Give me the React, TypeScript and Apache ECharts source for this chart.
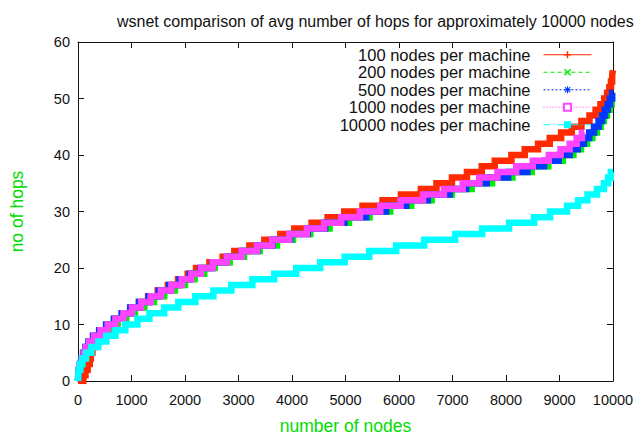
import React, { useEffect, useRef } from "react";
import * as echarts from "echarts";

const titleText = "wsnet comparison of avg number of hops for approximately 10000 nodes";
const xAxisName = "number of nodes";
const yAxisName = "no of hops";
const seriesNames = [
  "100 nodes per machine",
  "200 nodes per machine",
  "500 nodes per machine",
  "1000 nodes per machine",
  "10000 nodes per machine",
];
const seriesColors = ["#ff2a00", "#00ee00", "#0038ff", "#ff44ff", "#00ffff"];

// Node rank (x) at which each hop count begins; array index = number of hops
const red100 = [0, 100, 140, 180, 220, 240, 270, 320, 400, 490, 590, 710, 845, 990, 1140, 1310, 1490, 1680, 1870, 2050,
  2207, 2456, 2704, 2922, 3203, 3483, 3782, 4043, 4366, 4665, 4977, 5318, 5692, 6036, 6409, 6700, 6990, 7270, 7547, 7790,
  8101, 8350, 8599, 8818, 9030, 9230, 9410, 9560, 9675, 9765, 9835, 9890, 9932, 9962, 9984, 9997];
const green200 = [0, 8, 20, 45, 80, 120, 170, 235, 330, 450, 590, 740, 900, 1065, 1240, 1420, 1610, 1810, 2000, 2180,
  2360, 2555, 2835, 3103, 3395, 3720, 4019, 4342, 4702, 5064, 5450, 5836, 6228, 6610, 6987, 7358, 7740, 8120, 8480, 8790,
  9060, 9260, 9400, 9515, 9615, 9700, 9770, 9830, 9885, 9935, 9975];
const blue500 = [0, 5, 12, 35, 62, 95, 140, 195, 280, 395, 525, 670, 815, 975, 1140, 1320, 1510, 1705, 1900, 2090,
  2290, 2515, 2780, 3060, 3350, 3640, 3965, 4295, 4620, 4980, 5387, 5760, 6135, 6540, 6945, 7255, 7640, 8040, 8400, 8711,
  8985, 9190, 9340, 9455, 9555, 9645, 9730, 9795, 9850, 9900, 9945, 9985];
const magenta1000 = [0, 5, 15, 40, 70, 105, 150, 210, 300, 420, 555, 700, 850, 1010, 1180, 1360, 1550, 1745, 1940, 2120,
  2300, 2520, 2780, 3060, 3345, 3630, 3950, 4280, 4600, 4920, 5270, 5650, 6030, 6450, 6840, 7190, 7500, 7840, 8190, 8500,
  8800, 9020, 9190, 9320, 9420];
const cyan10000 = [0, 3, 15, 40, 80, 150, 250, 380, 530, 700, 885, 1110, 1335, 1610, 1875, 2194, 2530, 2866, 3259, 3669,
  4080, 4528, 4986, 5443, 5948, 6471, 7050, 7554, 8058, 8525, 8824, 9141, 9347, 9524, 9701, 9830, 9910, 9960];
const seriesLevels = [red100, green200, blue500, magenta1000, cyan10000];
// last node rank reached by each series
const seriesEnd = [10000, 10000, 10000, 9460, 10000];

const xTicks = { min: 0, max: 10000, interval: 1000 };
const yTicks = { min: 0, max: 60, interval: 10 };

const plusPath = "path://M4 0H6V4H10V6H6V10H4V6H0V4H4Z";
const crossPath = "path://M0 1.4L1.4 0L5 3.6L8.6 0L10 1.4L6.4 5L10 8.6L8.6 10L5 6.4L1.4 10L0 8.6L3.6 5Z";
const starPath = "path://M4.3 0H5.7V4.3H10V5.7H5.7V10H4.3V5.7H0V4.3H4.3ZM0.8 1.8L1.8 0.8L5 4L8.2 0.8L9.2 1.8L6 5L9.2 8.2L8.2 9.2L5 6L1.8 9.2L0.8 8.2L4 5Z";
const seriesSymbols = [plusPath, crossPath, starPath, "emptyRect", "rect"];
const legendDash: any[] = ["solid", [4, 3], [2, 2], [1, 2], [7, 3, 1, 3]];

const FONT = "Liberation Sans, Arial, Helvetica, sans-serif";

export default function App() {
  const ref = useRef<HTMLDivElement>(null);
  useEffect(() => {
    if (!ref.current) return;
    const chart = echarts.init(ref.current, undefined, { renderer: "svg" });
    const series = seriesNames.map((name, i) => {
      const lv = seriesLevels[i];
      const data = lv.map((x, h) => [x, h]);
      data.push([seriesEnd[i], lv.length - 1]);
      return {
        name,
        type: "line",
        step: "end",
        data,
        color: seriesColors[i],
        symbol: seriesSymbols[i],
        showSymbol: false,
        itemStyle: { color: seriesColors[i] },
        lineStyle: { color: seriesColors[i], width: 6.5, cap: "butt", join: "miter" },
        emphasis: { disabled: true },
        z: 2 + i,
      };
    });
    const axisCommon = {
      axisLine: { show: true, onZero: false, lineStyle: { color: "#111", width: 1 } },
      axisTick: { show: true, inside: true, length: 6, lineStyle: { color: "#111", width: 1 } },
      splitLine: { show: false },
    };
    const plain = (v: number) => String(v);
    chart.setOption({
      animation: false,
      backgroundColor: "#fff",
      title: {
        text: titleText,
        left: 112,
        top: 8,
        textStyle: { fontFamily: FONT, fontSize: 16, fontWeight: "normal", color: "#111" },
      },
      grid: { left: 78, right: 31, top: 42, bottom: 55, containLabel: false },
      legend: {
        orient: "vertical",
        right: 52,
        top: 46,
        align: "right",
        padding: 0,
        itemGap: 0,
        itemWidth: 48,
        itemHeight: 9,
        selectedMode: false,
        textStyle: { fontFamily: FONT, fontSize: 16.5, color: "#111", lineHeight: 17.5, padding: [0, 8, 0, 0] },
        lineStyle: { width: 1 },
        data: seriesNames.map((n, i) => ({
          name: n,
          lineStyle: { type: legendDash[i], width: 1, color: seriesColors[i] },
        })),
      },
      xAxis: [
        {
          type: "value",
          position: "bottom",
          ...xTicks,
          ...axisCommon,
          axisLabel: { show: true, formatter: plain, fontFamily: FONT, fontSize: 14.5, color: "#111", margin: 11, showMinLabel: true, showMaxLabel: true },
          name: xAxisName,
          nameLocation: "middle",
          nameGap: 36,
          nameTextStyle: { fontFamily: FONT, fontSize: 17.5, color: "#00dd00" },
        },
        {
          type: "value",
          position: "top",
          ...xTicks,
          ...axisCommon,
          axisLabel: { show: false },
        },
      ],
      yAxis: [
        {
          type: "value",
          position: "left",
          ...yTicks,
          ...axisCommon,
          axisLabel: { show: true, formatter: plain, fontFamily: FONT, fontSize: 14.5, color: "#111", margin: 8, showMinLabel: true, showMaxLabel: true },
          name: yAxisName,
          nameLocation: "middle",
          nameGap: 52,
          nameTextStyle: { fontFamily: FONT, fontSize: 17.5, color: "#00dd00" },
        },
        {
          type: "value",
          position: "right",
          ...yTicks,
          ...axisCommon,
          axisLabel: { show: false },
        },
      ],
      series,
    });
    return () => chart.dispose();
  }, []);
  return (
    <div
      ref={ref}
      style={{ position: "fixed", left: 0, top: 0, width: 644, height: 440, background: "#fff" }}
    />
  );
}
